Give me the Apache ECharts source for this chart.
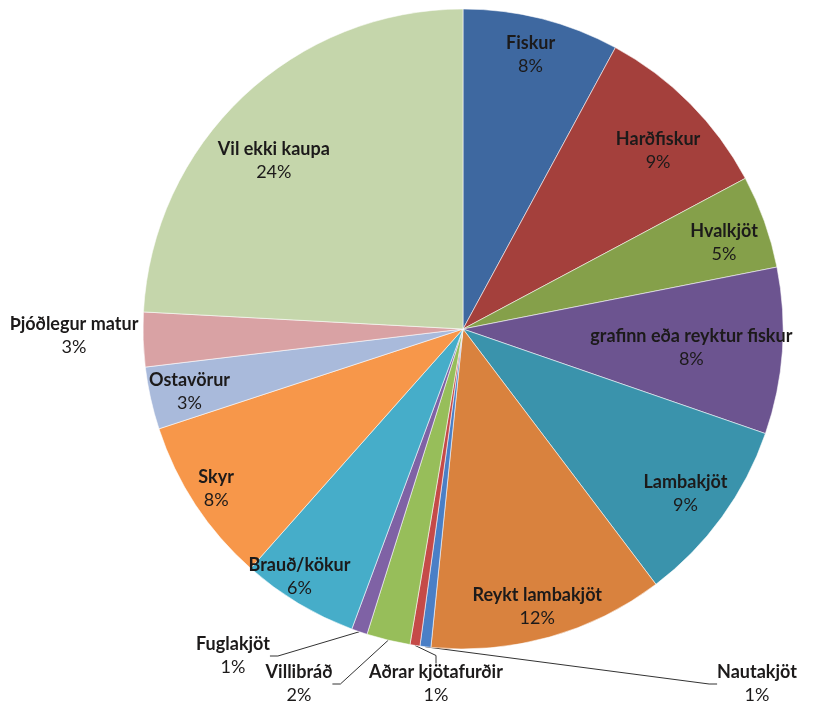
<!DOCTYPE html>
<html>
<head>
<meta charset="utf-8">
<script src="https://cdn.jsdelivr.net/npm/echarts@6/dist/echarts.min.js"></script>
<style>
html, body { margin: 0; padding: 0; background: #fff; }
#main { width: 818px; height: 706px; }
</style>
</head>
<body>
<div id="main"></div>
<script>
// flokkar, réttsælis frá toppi
var categories = ['Fiskur', 'Harðfiskur', 'Hvalkjöt', 'grafinn eða reyktur fiskur', 'Lambakjöt',
  'Reykt lambakjöt', 'Nautakjöt', 'Aðrar kjötafurðir', 'Villibráð', 'Fuglakjöt',
  'Brauð/kökur', 'Skyr', 'Ostavörur', 'Þjóðlegur matur', 'Vil ekki kaupa'];
var shares = [7.9, 9.3, 4.7, 8.4, 9.4, 11.9, 0.55, 0.5, 2.2, 0.8, 5.9, 8.4, 3.15, 2.75, 24.15];
var colors = ['#3e68a0', '#a4403c', '#85a04a', '#6c5490', '#3a93ac', '#d9823e', '#4a7fc6',
  '#c54a48', '#97be5a', '#7f62a5', '#46adc9', '#f7974a', '#a9badb', '#d9a2a4', '#c5d6ab'];

// labels outside the pie (placement only)
var outerLabelPos = {
  'Nautakjöt': [757, 684],
  'Aðrar kjötafurðir': [436, 684],
  'Villibráð': [299, 684],
  'Fuglakjöt': [233, 656],
  'Þjóðlegur matur': [74, 336]
};
// small nudges for the labels inside
var innerNudge = {
  'Fiskur': [0, -8],
  'Harðfiskur': [0, 16],
  'Hvalkjöt': [2, 6],
  'grafinn eða reyktur fiskur': [-46, 0],
  'Lambakjöt': [0, 3],
  'Reykt lambakjöt': [0, 13],
  'Brauð/kökur': [-22, 12],
  'Skyr': [-17, 9],
  'Ostavörur': [-5, 3],
  'Vil ekki kaupa': [0, 31]
};

var font = 'Lato, "Open Sans", sans-serif';
var rich = {
  n: { fontFamily: font, fontSize: 18, fontWeight: 'bold', color: '#1c1a1a', lineHeight: 23 },
  p: { fontFamily: font, fontSize: 18, color: '#1c1a1a', lineHeight: 23 }
};
function fmt(p) {
  return '{n|' + p.name + '}\n{p|' + Math.round(p.percent) + '%}';
}

var sliceData = categories.map(function (c, i) {
  var item = { name: c, value: shares[i], itemStyle: { color: colors[i] } };
  if (outerLabelPos[c]) {
    item.label = { show: true, position: 'outside' };
    item.labelLine = { show: c !== 'Þjóðlegur matur', length: 10, length2: 8 };
  }
  return item;
});
var labelData = categories.map(function (c, i) {
  return { name: c, value: shares[i], label: { show: !outerLabelPos[c] } };
});

var myChart = echarts.init(document.getElementById('main'));
myChart.setOption({
  backgroundColor: '#fff',
  animation: false,
  series: [
    {
      type: 'pie',
      center: [463, 329],
      radius: [0, 320],
      startAngle: 90,
      avoidLabelOverlap: false,
      itemStyle: { borderColor: 'rgba(255,255,255,0.55)', borderWidth: 1 },
      label: { show: false, formatter: fmt, rich: rich, align: 'center' },
      labelLine: { lineStyle: { color: '#333', width: 1 } },
      emphasis: { disabled: true },
      labelLayout: function (params) {
        var pos = outerLabelPos[categories[params.dataIndex]];
        if (!pos) return {};
        return { x: pos[0], y: pos[1], align: 'center', verticalAlign: 'middle' };
      },
      data: sliceData
    },
    {
      type: 'pie',
      center: [463, 329],
      radius: [224, 320],
      startAngle: 90,
      silent: true,
      avoidLabelOverlap: false,
      itemStyle: { color: 'transparent', borderWidth: 0 },
      label: { position: 'inside', formatter: fmt, rich: rich, align: 'center' },
      labelLine: { show: false },
      emphasis: { disabled: true },
      labelLayout: function (params) {
        var d = innerNudge[categories[params.dataIndex]];
        if (!d) return {};
        return { dx: d[0], dy: d[1] };
      },
      data: labelData
    }
  ]
});
</script>
</body>
</html>
